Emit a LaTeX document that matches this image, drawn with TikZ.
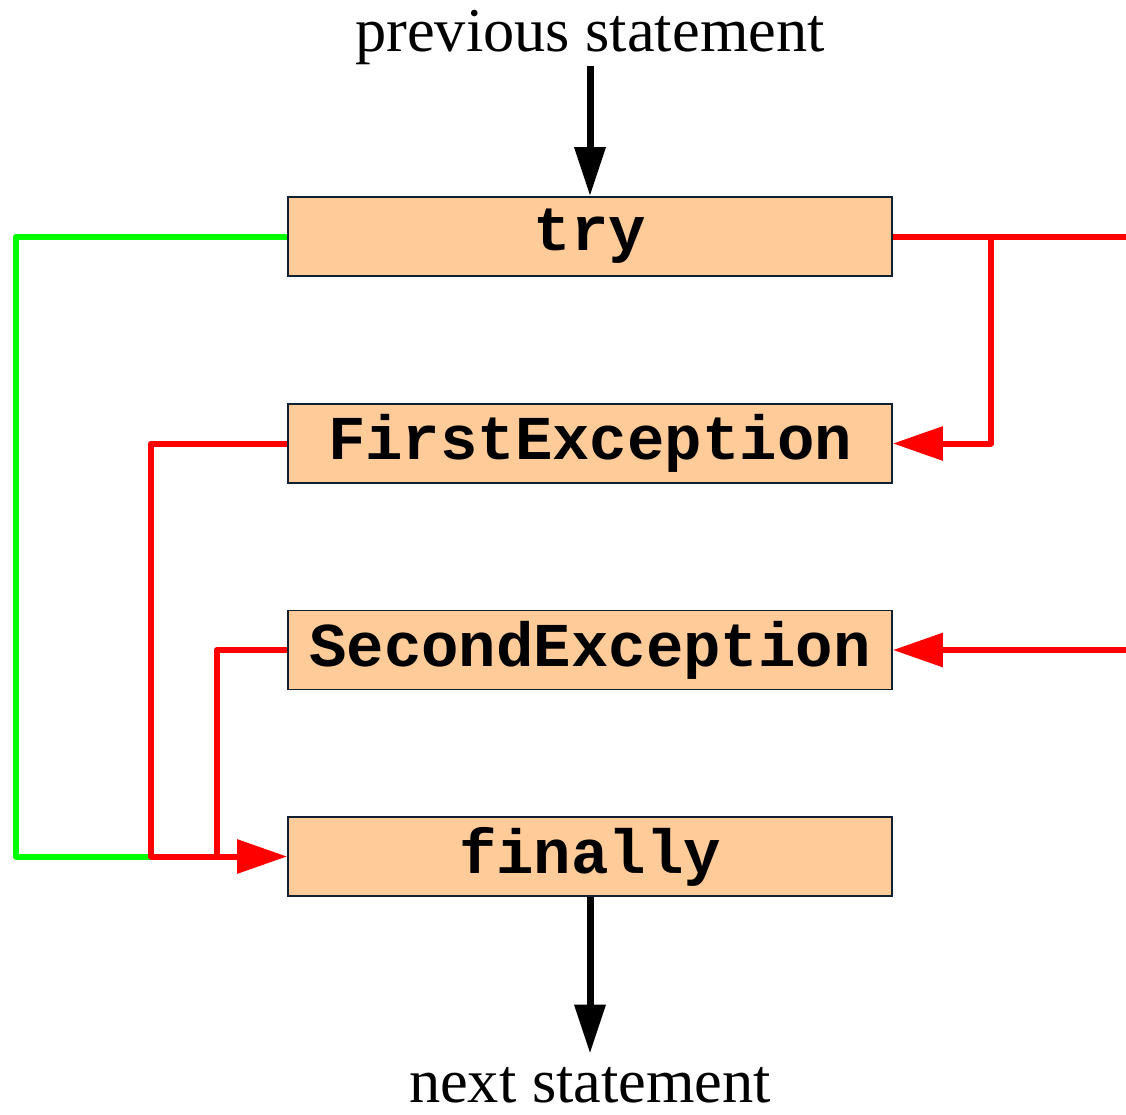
\documentclass[tikz,border=0pt]{standalone}
\usepackage{fontspec}
\setmainfont{Liberation Serif}
\newfontfamily\codefont{Liberation Mono}
\usetikzlibrary{arrows.meta}

\begin{document}
\begin{tikzpicture}[
        x=0.02cm,
        y=-0.02cm,
        block/.style={
            rectangle,
            fill={rgb,255:red,255; green,204; blue,153},  % Hex: #ffcc99
            draw={rgb,255:red,16; green,32; blue,48},
            line width=1.1pt,
            minimum width=12.08cm,
            minimum height=1.58cm,
            inner sep=0pt,
            font=\codefont\bfseries\fontsize{35.5}{40}\selectfont
        },
        stmt/.style={
            inner sep=0pt,
            anchor=base,
            font=\fontsize{35.5}{40}\selectfont
        },
        flow/.style={
            -{Triangle[length=0.98cm,width=0.6cm]},
            line width=0.14cm,
            draw=black
        },
        throw/.style={
            draw=red,
            line width=0.12cm,
            line join=round
        },
        throwarrow/.style={
            throw,
            -{Triangle[length=1cm,width=0.66cm]}
        },
        pass/.style={
            draw=green,
            line width=0.12cm,
            line join=round
        }
    ]
        \useasboundingbox (0,0) rectangle (1126,1115);

        % Statements
        \node[stmt] (prev) at (590,52) {previous statement};
        \node[stmt] (next) at (590,1102) {next statement};

        % Blocks
        \node[block] (try) at (590,236.5) {try};
        \node[block] (first) at (590,443.5) {FirstException};
        \node[block] (second) at (590,650) {SecondException};
        \node[block] (finally) at (590,856.5) {finally};

        % Normal flow
        \draw[flow] (prev.south) -- (try.north);
        \draw[flow, shorten >=0.26cm] (finally.south) -- (next.north);
        \draw[pass] (try.west) -- ++(-271,0) -- ++(0,620) -- ++(135,0);

        % Exceptions
        \coordinate (exit1) at (1126,236.5);
        \coordinate (exit2) at (1126,650);
        \coordinate (split) at (991,236.5);
        \draw[throw] (try.east) -- (exit1);
        \draw[throwarrow] (split) |- (first.east);
        \draw[throwarrow] (exit2) -- (second.east);
        \draw[throw] (second.west) -- ++(-70,0) -- ++(0,206.5);
        \draw[throwarrow] (first.west) -- ++(-136,0) |- (finally.west);
    \end{tikzpicture}
\end{document}
